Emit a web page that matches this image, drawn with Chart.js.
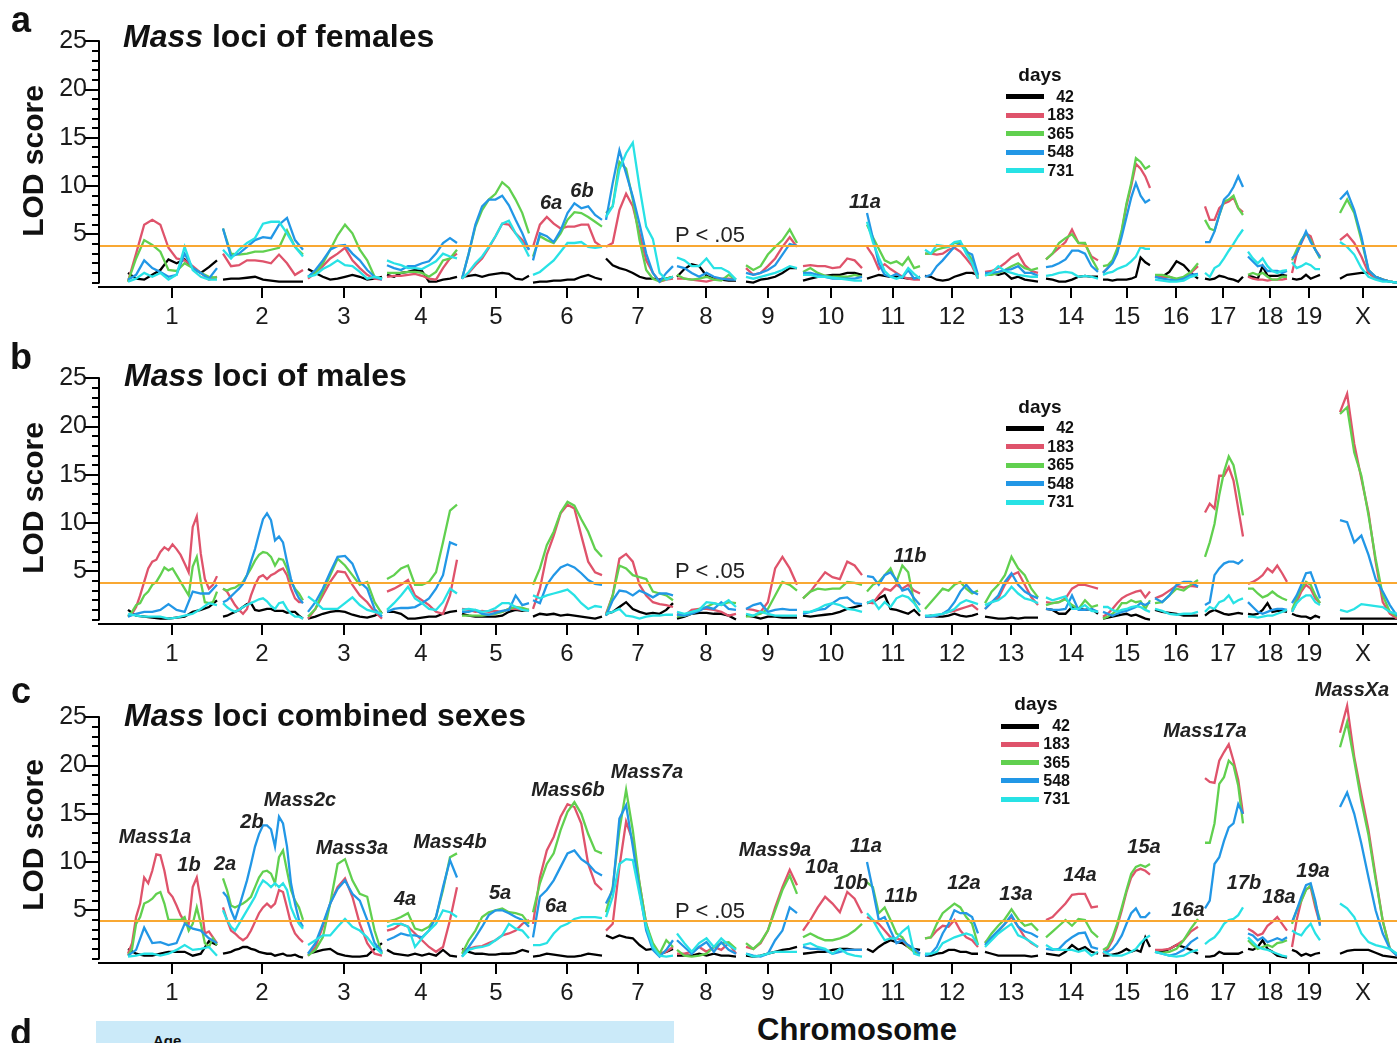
<!DOCTYPE html>
<html lang="en">
<head>
<meta charset="utf-8">
<title>Mass loci LOD scores</title>
<script src="https://cdn.jsdelivr.net/npm/chart.js@4.4.1/dist/chart.umd.min.js"></script>
<style>
  html, body { margin:0; padding:0; background:#fff; }
  body { position:relative; width:1397px; height:1043px; overflow:hidden;
         font-family:"Liberation Sans", Arial, Helvetica, sans-serif; color:#111; }
  .panel { position:absolute; left:0; width:1397px; height:335px; }
  .panel canvas { display:block; }
  .txt { position:absolute; white-space:nowrap; line-height:1; }
  .letter { font-weight:bold; font-size:36px; color:#111; }
  .title { font-weight:bold; font-size:32px; color:#111; }
  .ylab { font-weight:bold; font-size:30px; color:#111; }
  .locus { font-weight:bold; font-style:italic; font-size:20px; color:#222; }
  .pval { font-size:22px; color:#222; }
  .legtitle { font-weight:bold; font-size:19px; color:#111; }
  .legnum { font-weight:bold; font-size:16px; color:#111; }
  .swatch { position:absolute; height:5px; }
  .ageband { position:absolute; left:96px; top:1021px; width:578px; height:30px; background:#cbeaf9; }
  .age { font-weight:bold; font-size:15px; color:#111; }
  .xtitle { font-weight:bold; font-size:31px; color:#111; }
</style>
</head>
<body>
<div class="panel" style="top:0px"><canvas id="chartFemales" width="1397" height="335"></canvas></div>
<div class="panel" style="top:337px"><canvas id="chartMales" width="1397" height="335"></canvas></div>
<div class="panel" style="top:676px"><canvas id="chartCombined" width="1397" height="335"></canvas></div>
<div class="ageband"></div>

<script>
// ---------- genome map (map units along the concatenated genome) ----------
const chromNames = ['1','2','3','4','5','6','7','8','9','10','11','12','13','14','15','16','17','18','19','X'];
const chromStart = [29,124,209,288,363,434,507,578,647,704,768,826,886,947,1004,1056,1106,1149,1193,1241];
const chromEnd   = [118,204,283,358,430,503,574,637,698,763,821,879,939,999,1051,1099,1144,1188,1221,1298];
const chromTicks = [73,163,245,322,397,468,539,607,669,732,794,853,912,972,1028,1077,1124,1171,1210,1264];
const mapLength = 1298;

const ageDays = ['42','183','365','548','731'];
const ageColors = ['#000000','#DF536B','#61D04F','#2297E6','#28E2E5'];
const lodTicks = [5,10,15,20,25];
const thresholds = [3.8, 3.8, 3.9];   // P < .05 genome-wide LOD thresholds

// ---------- LOD profiles: one array per chromosome, markers evenly spaced ----------
// females
const femalesD42 = [
 [1.0,0.4,0.3,0.8,1.3,2.4,2.0,2.4,1.5,1.0,1.6,2.3],
 [0.3,0.4,0.4,0.5,0.6,0.3,0.2,0.1,0.1,0.1,0.1],
 [1.4,1.0,0.6,0.3,0.4,0.6,0.8,0.6,0.3,0.4,0.6],
 [0.8,0.6,1.0,1.1,1.3,1.2,0.1,0.1,0.3,0.4,0.6],
 [0.6,0.7,0.8,0.6,0.8,0.9,1.0,0.9,0.4,0.3,0.7],
 [0.0,0.1,0.1,0.2,0.2,0.3,0.3,0.6,0.8,0.5,0.3],
 [2.5,1.8,1.5,1.3,1.0,0.6,0.4,0.4,0.3,0.4,0.6],
 [0.6,1.4,1.9,1.7,0.7,0.4,0.3,0.2,0.2],
 [0.1,0.0,0.3,0.4,0.6,1.0,1.5,1.5],
 [0.2,0.4,0.6,0.7,0.8,0.8,1.0,1.0,0.8],
 [0.4,0.6,0.8,0.7,0.6,0.6,0.5,0.4,0.4,0.6],
 [0.7,0.6,0.3,0.2,0.3,0.6,0.8,1.0,1.0,0.8],
 [1.0,1.0,0.8,1.0,0.4,0.6,0.3,0.2,0.1],
 [0.4,0.3,0.1,0.1,0.3,0.6,0.7,0.6,0.6],
 [0.3,0.3,0.2,0.3,0.3,0.3,0.4,0.6,2.6,2.1,1.8],
 [0.6,0.6,1.1,2.2,1.8,1.0,0.4],
 [0.4,0.3,0.4,0.7,0.6,0.4,0.3,0.1,0.6],
 [0.7,0.6,0.4,1.7,0.7,0.7,0.7,0.8,0.7],
 [0.4,0.3,0.4,0.8,0.4,0.6,0.8],
 [0.4,0.8,0.9,1.0,1.0,0.6,0.3,0.1,0.0]
];
const femalesD183 = [
 [0.1,3.0,6.0,6.5,6.0,3.6,2.5,2.3,1.7,1.0,0.3,0.6],
 [3.0,1.7,1.8,2.3,2.3,2.2,2.0,2.9,2.0,0.8,1.3],
 [0.4,1.0,1.7,2.5,3.0,3.6,2.3,1.5,0.8,0.4,0.3],
 [0.6,0.7,0.7,0.8,0.9,0.7,0.4,0.3,1.5,2.5,3.0],
 [0.4,1.0,1.8,2.5,3.6,4.8,6.1,6.0,5.1,4.4,3.4],
 [3.7,6.0,6.8,6.1,5.6,5.8,5.8,6.0,6.0,4.2,3.7],
 [3.7,4.1,7.5,9.2,7.9,5.1,2.3,1.0,0.1,0.3,0.4],
 [0.4,0.4,0.3,0.2,0.1,0.3,0.4,0.4,0.3],
 [1.5,0.8,1.0,1.7,2.5,3.7,4.7,3.7],
 [1.7,1.8,1.7,1.7,1.5,1.6,2.5,2.3,1.5],
 [3.7,2.8,1.4,1.9,1.4,1.0,0.6,0.4,0.3,0.3],
 [3.0,3.0,2.9,3.0,3.4,3.6,3.2,2.5,1.7,0.4],
 [1.1,1.2,1.5,2.0,2.6,3.0,1.8,1.2,1.0],
 [2.4,3.0,3.6,4.2,5.5,4.1,4.0,2.7,2.3],
 [1.0,1.5,2.2,3.2,5.3,8.0,10.0,12.3,11.8,11.0,9.8],
 [0.7,0.6,0.6,0.3,0.4,1.0,1.7],
 [7.9,6.5,6.5,7.7,8.2,8.4,8.8,7.7,7.3],
 [0.6,0.4,0.3,0.3,0.2,0.3,0.3,0.3,0.4],
 [1.0,3.0,4.1,5.1,4.8,3.4,2.7],
 [4.4,5.0,4.1,2.7,1.0,0.4,0.3,0.1,0.0]
];
const femalesD365 = [
 [0.1,2.5,4.4,3.9,3.2,1.3,1.2,2.0,1.5,1.0,0.6,0.5],
 [5.6,3.0,2.9,3.0,3.2,3.2,3.4,3.6,5.4,3.7,2.9],
 [0.6,1.0,2.0,3.4,4.9,6.0,5.1,3.4,2.3,0.6,0.4],
 [1.0,1.0,1.0,1.1,1.1,1.0,0.6,1.1,2.3,2.5,3.4],
 [0.4,3.0,5.8,7.5,8.6,9.2,10.4,9.8,8.6,7.2,5.1],
 [2.7,4.8,4.4,4.1,5.1,6.5,7.3,7.2,6.8,6.3,5.8],
 [7.2,7.9,12.5,11.8,8.6,4.4,1.3,0.4,0.1,0.4,0.6],
 [0.8,0.4,0.3,0.4,0.6,0.3,0.2,0.8,0.3],
 [1.8,1.3,1.7,2.9,3.7,4.4,5.5,4.1],
 [1.1,1.5,1.0,0.7,0.6,0.6,0.6,0.8,0.6],
 [6.0,4.7,3.5,2.3,2.0,2.2,1.8,2.6,1.5,1.7],
 [3.0,3.0,3.4,3.6,3.7,4.1,4.1,3.4,2.3,0.6],
 [0.8,0.8,1.0,1.3,1.7,2.0,1.5,1.3,1.5],
 [2.4,3.0,4.1,4.6,5.0,4.1,4.1,2.5,1.3],
 [1.7,1.8,2.3,3.5,5.5,8.2,10.3,12.9,12.5,11.8,12.1],
 [0.8,0.8,0.6,0.4,0.6,1.1,2.0],
 [6.5,5.6,5.4,7.0,8.4,8.6,9.0,7.7,7.0],
 [0.8,1.0,0.8,1.0,0.6,0.3,0.3,0.6,0.6],
 [2.3,3.4,4.4,5.1,4.4,3.4,2.5],
 [7.2,8.6,7.2,4.4,1.3,0.6,0.3,0.1,0.0]
];
const femalesD548 = [
 [0.3,0.8,2.3,1.5,1.1,0.6,0.8,3.0,1.5,1.0,0.4,1.5],
 [5.6,2.7,3.0,3.7,4.4,4.7,4.6,6.0,6.7,4.4,3.4],
 [0.6,1.3,2.3,3.4,3.8,3.9,3.0,2.3,1.3,0.6,0.3],
 [1.8,1.5,1.3,1.7,1.7,2.0,2.2,3.0,4.1,4.6,4.1],
 [0.4,3.0,6.0,7.9,8.6,8.6,9.0,8.0,6.5,5.1,3.4],
 [2.3,5.1,4.8,4.2,5.4,7.2,8.2,7.7,7.9,7.0,6.5],
 [6.5,10.3,13.7,11.3,8.9,6.1,3.0,1.0,0.1,1.0,1.7],
 [1.7,1.5,1.0,0.6,1.0,0.6,0.4,0.3,0.3],
 [1.0,0.8,1.0,1.3,1.8,2.9,4.0,3.8],
 [1.0,1.0,0.8,0.6,0.4,0.4,0.4,0.4,0.6],
 [7.2,4.6,2.0,0.8,0.6,0.9,0.5,1.3,0.4,0.6],
 [0.6,0.8,1.7,2.3,3.0,3.7,4.0,3.2,2.9,0.8],
 [1.0,1.0,1.1,1.3,1.4,1.7,1.0,1.0,0.7],
 [1.6,1.7,2.0,2.4,3.3,3.3,3.0,1.7,1.1],
 [1.0,1.5,2.0,3.0,4.8,6.8,8.8,10.3,9.0,8.3,8.6],
 [0.6,0.4,0.3,0.2,0.4,0.8,0.9],
 [4.2,4.2,5.3,7.0,8.6,9.1,9.9,11.0,9.9],
 [2.7,2.2,1.7,1.8,1.2,1.2,1.2,1.0,1.2],
 [2.5,3.0,4.2,5.3,4.2,3.4,2.6],
 [8.6,9.4,7.5,4.8,1.3,0.6,0.3,0.1,0.0]
];
const femalesD731 = [
 [0.1,0.4,1.0,0.6,1.0,0.3,0.8,3.7,1.3,0.6,0.3,0.3],
 [3.4,2.5,3.4,4.1,4.6,6.1,6.3,6.3,5.1,3.7,2.7],
 [0.6,0.8,1.4,1.8,2.3,1.8,1.7,1.1,0.4,0.6,0.4],
 [2.3,2.0,1.8,1.5,1.5,1.4,1.8,2.2,3.0,2.7,2.5],
 [0.4,1.1,2.0,2.7,3.7,4.8,6.1,6.4,5.1,4.1,2.7],
 [0.8,1.1,1.7,2.3,3.2,4.1,4.1,4.2,3.7,3.6,3.7],
 [6.8,7.9,11.7,13.4,14.5,9.9,5.8,4.5,1.0,0.3,0.6],
 [2.6,2.3,1.7,1.7,2.5,1.5,1.5,1.1,0.3],
 [0.6,0.4,0.6,0.8,1.0,1.3,1.7,1.5],
 [0.8,0.8,0.6,0.6,0.5,0.4,0.3,0.2,0.2],
 [6.3,4.2,2.6,1.2,0.6,0.4,0.6,1.5,0.9,0.4],
 [3.4,3.0,3.9,3.8,3.7,4.2,4.3,3.0,2.0,0.4],
 [0.7,1.0,1.7,1.2,1.0,0.8,0.7,0.6,0.6],
 [0.7,0.8,1.0,1.1,1.0,0.6,0.7,0.6,0.4],
 [0.8,1.0,1.1,1.4,1.6,1.8,2.2,2.7,3.7,3.5,3.5],
 [0.3,0.2,0.1,0.1,0.2,0.6,0.8],
 [1.0,0.6,1.5,1.8,2.5,3.3,4.0,4.8,5.5],
 [3.2,2.5,2.0,2.5,1.7,1.2,1.0,1.2,1.3],
 [2.1,1.5,1.7,2.0,1.8,1.4,1.4],
 [4.2,3.7,2.9,1.5,0.6,0.3,0.1,0.1,0.0]
];

// males
const malesD42 = [
 [1.0,0.4,0.3,0.2,0.1,0.1,0.2,0.3,0.8,1.0,1.3,2.0],
 [0.3,0.4,0.6,0.8,1.0,1.3,1.6,1.7,1.0,0.9,1.0,1.1,1.1,0.9,0.9,0.9,0.7,0.8,0.8,0.4,0.1],
 [0.1,0.3,0.6,0.8,0.9,0.8,0.5,0.3,0.2,0.4,0.8],
 [0.8,0.8,0.6,0.1,0.1,0.2,0.3,0.3,0.6,0.8,0.9],
 [0.6,0.4,0.3,0.3,0.3,0.3,0.4,0.8,1.0,0.9,1.0],
 [0.3,0.6,0.5,0.6,0.4,0.5,0.4,0.3,0.2,0.1,0.3],
 [0.6,0.8,1.3,1.8,1.1,0.8,0.6,0.7,0.6,1.0,1.7],
 [0.1,0.3,0.6,0.7,0.7,0.6,0.6,0.4,0.0],
 [0.4,0.3,0.1,0.3,0.3,0.2,0.2,0.2],
 [0.4,0.3,0.4,0.5,0.6,0.8,1.1,1.3,1.5],
 [1.7,1.8,2.2,2.5,1.1,1.0,0.8,0.6,1.0,0.4],
 [0.3,0.4,0.3,0.3,0.4,0.6,0.4,0.3,0.4,0.6],
 [0.3,0.2,0.1,0.1,0.2,0.1,0.2,0.2,0.2],
 [1.1,1.0,0.6,0.6,1.3,1.1,1.0,1.1,0.6],
 [0.1,0.2,0.3,0.4,0.5,0.6,0.4,0.5,0.3,0.1,0.0],
 [1.0,0.8,0.7,0.6,0.4,0.4,0.4],
 [0.4,0.8,1.0,0.8,0.6,0.5,0.6,0.7,0.6],
 [0.6,0.5,0.6,1.0,1.7,0.8,0.9,0.9,0.8],
 [0.6,0.4,0.3,0.3,0.1,0.4,0.2],
 [0.1,0.1,0.1,0.1,0.1,0.1,0.1,0.1,0.1]
];
const malesD183 = [
 [0.4,0.6,1.3,2.5,3.9,5.3,6.0,6.2,7.0,7.5,7.2,7.8,7.3,6.7,5.8,4.9,9.6,10.7,6.8,4.2,3.2,3.6,4.5],
 [3.2,2.9,2.2,1.5,1.0,0.6,1.1,2.5,3.6,4.4,4.6,4.2,4.6,4.8,5.1,5.3,4.6,3.2,2.2,1.8,1.8],
 [0.1,1.1,2.5,3.9,5.0,4.9,3.6,2.5,1.8,0.8,0.1],
 [2.9,3.2,3.6,4.1,2.5,2.0,1.5,0.8,0.6,2.5,6.2],
 [1.1,1.0,0.8,0.9,0.8,0.9,0.8,1.1,1.1,1.0,0.9],
 [1.1,3.2,6.7,8.7,11.0,11.9,11.5,8.7,6.0,4.9,4.6],
 [0.6,2.5,6.3,6.8,6.0,3.6,2.5,1.8,1.6,1.5,1.3],
 [0.6,0.4,1.0,1.1,1.1,1.0,0.8,0.4,0.6],
 [1.1,1.0,0.8,1.8,5.3,6.5,5.3,3.6],
 [2.2,2.9,3.9,4.9,4.4,4.2,6.0,5.6,4.6],
 [1.8,1.7,2.5,3.2,3.0,3.6,3.2,3.6,3.0,2.7],
 [0.3,0.3,0.4,0.6,0.8,0.9,1.1,1.3,1.5,1.0],
 [1.1,1.8,2.2,3.6,4.6,4.9,3.6,2.3,1.5],
 [1.8,1.7,1.8,2.2,3.2,3.6,3.6,3.4,3.2],
 [0.3,0.6,1.1,1.7,2.2,2.5,2.7,2.9,3.0,2.3,2.9],
 [2.2,2.5,3.0,3.5,3.3,3.5,3.4],
 [11.1,12.0,11.5,14.9,14.9,15.8,14.4,11.5,8.6],
 [3.7,3.9,4.2,4.6,5.3,4.9,5.6,4.8,3.9],
 [0.8,1.8,2.9,3.6,3.2,2.2,1.7],
 [21.5,23.4,18.2,14.6,11.1,6.0,1.8,0.6,0.1]
];
const malesD365 = [
 [0.3,0.8,1.5,1.7,2.5,2.9,3.6,3.9,4.6,5.4,5.1,5.3,4.6,3.9,3.2,2.5,5.5,6.5,3.9,1.8,1.7,1.8,2.9],
 [3.2,3.0,3.2,3.3,3.6,3.9,4.6,5.3,6.1,6.7,7.0,6.9,6.5,5.6,6.3,6.2,5.3,3.9,3.2,2.7,2.0],
 [0.3,1.1,2.9,4.6,6.3,5.6,4.6,3.6,3.9,1.8,0.6],
 [4.2,4.6,5.3,5.6,3.6,3.6,3.9,4.9,8.0,11.3,11.9],
 [0.4,0.4,0.4,0.4,0.5,0.6,0.8,1.1,1.3,1.2,1.0],
 [3.6,5.3,7.7,9.1,11.1,12.2,11.8,10.4,9.1,7.3,6.5],
 [0.4,2.5,5.6,5.3,4.6,4.4,4.2,2.9,2.7,2.5,2.0],
 [0.3,0.4,0.6,1.1,1.3,1.7,1.5,1.8,1.7],
 [0.3,0.4,0.6,1.1,2.5,3.9,3.6,3.0],
 [2.2,2.9,3.2,3.1,3.2,3.2,3.9,3.8,3.6],
 [2.9,3.6,3.9,4.6,5.3,3.9,5.6,4.9,1.8,0.8],
 [1.1,1.8,2.5,3.2,3.0,3.6,3.9,3.2,2.7,3.0],
 [1.7,2.9,3.6,4.6,6.5,5.3,4.6,3.2,2.3],
 [1.5,1.7,1.8,2.1,1.5,1.1,2.0,1.3,1.5],
 [0.1,0.3,0.6,1.0,1.7,1.7,2.0,1.8,1.9,1.1,2.0],
 [1.7,1.8,2.5,3.2,3.0,3.6,4.1],
 [6.5,8.0,9.9,12.9,15.3,16.9,16.0,13.6,10.8],
 [3.2,3.2,2.7,2.3,2.5,2.9,2.5,2.2,2.0],
 [1.0,2.2,3.2,3.9,3.6,2.5,1.7],
 [21.3,22.0,17.3,14.9,10.8,6.3,2.5,0.8,0.3]
];
const malesD548 = [
 [0.3,0.6,0.8,0.8,1.0,1.6,1.0,0.8,2.9,2.7,2.7,3.6],
 [1.8,2.0,2.4,2.8,3.2,3.7,4.6,6.0,7.3,8.9,10.4,11.0,10.3,8.2,8.6,8.0,6.0,4.2,3.0,2.2,1.7],
 [0.8,1.8,3.2,4.9,6.5,6.6,5.8,3.9,3.2,1.1,0.3],
 [0.8,1.1,1.2,1.2,1.3,1.7,2.2,3.2,4.6,8.0,7.7],
 [0.8,0.8,1.0,0.6,0.5,0.7,0.9,1.0,2.5,1.5,1.7],
 [2.0,1.7,3.6,4.6,5.4,5.7,5.4,4.8,4.1,3.7,3.6],
 [0.4,2.0,3.0,2.9,2.5,3.0,2.7,2.3,2.7,2.7,2.5],
 [0.5,0.4,0.6,0.9,1.3,1.1,1.8,1.1,1.0],
 [1.1,1.5,1.7,0.8,1.0,1.1,1.0,1.0],
 [0.6,0.8,1.0,1.1,1.7,2.2,2.3,1.7,1.6],
 [4.5,4.4,3.6,4.6,4.9,4.1,3.0,3.2,2.2,1.5],
 [0.3,0.3,0.4,0.6,1.0,1.8,2.9,3.6,2.9,2.6],
 [1.1,1.8,2.5,3.9,4.8,3.6,2.9,2.5,2.2],
 [1.1,1.0,1.0,1.1,2.5,1.0,1.0,1.1,0.8],
 [0.8,0.6,0.4,0.6,0.8,0.9,1.1,1.3,1.7,1.5,1.8],
 [2.2,1.8,2.5,3.6,3.9,3.9,3.4],
 [1.5,1.8,4.6,5.3,5.8,6.0,6.0,5.8,6.2],
 [1.8,1.3,0.8,0.6,0.8,1.0,1.1,1.1,1.0],
 [1.7,2.5,3.6,4.8,4.9,3.6,2.2],
 [10.3,10.1,8.0,8.7,6.7,4.2,2.9,1.5,0.4]
];
const malesD731 = [
 [0.6,0.4,0.3,0.3,0.3,0.1,0.2,0.4,0.6,1.1,1.7,1.5],
 [1.7,1.3,1.0,0.8,1.0,1.3,1.5,1.7,1.9,2.1,2.2,1.9,1.4,1.1,1.7,1.8,1.1,0.6,0.3,0.3,0.1],
 [2.4,1.8,1.1,1.1,1.1,1.7,2.3,1.5,1.0,0.8,0.6],
 [1.0,1.7,2.5,3.4,2.2,1.7,1.1,1.0,1.8,3.2,2.7],
 [1.0,1.1,1.0,0.8,0.9,1.2,1.7,1.7,1.3,1.0,0.9],
 [2.5,2.2,2.5,2.7,2.9,3.1,2.5,1.7,1.1,1.4,1.3],
 [0.6,0.8,1.1,0.4,0.3,0.1,0.3,0.4,0.4,0.5,0.5],
 [0.8,0.6,0.8,1.0,1.8,1.7,1.5,2.0,1.3],
 [0.6,0.4,0.8,0.6,0.4,0.4,0.4,0.4],
 [0.8,0.8,1.1,1.5,1.7,1.5,1.1,1.0,0.8],
 [1.7,2.0,1.1,1.8,1.3,2.2,2.5,2.3,1.7,0.8],
 [0.4,0.4,0.5,0.6,0.8,1.1,1.7,2.0,1.8,1.6],
 [1.5,1.8,2.0,2.5,3.4,2.7,2.2,2.0,1.7],
 [2.3,2.0,2.2,2.4,1.1,1.1,1.5,0.9,0.8],
 [1.3,1.3,1.0,0.8,1.0,1.1,1.3,1.4,1.3,1.0,0.8],
 [1.1,0.9,0.6,0.5,0.6,0.6,0.8],
 [0.8,1.3,1.1,1.8,2.0,2.5,1.7,2.0,2.2],
 [0.3,0.3,0.2,0.3,0.4,0.4,0.6,0.8,1.0],
 [0.8,1.7,2.2,2.5,2.5,1.8,1.5],
 [1.0,0.8,1.1,1.6,1.5,1.4,1.3,0.8,0.6]
];

// combined sexes
const combinedD42 = [
 [1.0,0.5,0.3,0.3,0.5,0.7,0.7,0.7,0.3,0.5,1.8,1.4],
 [0.5,0.6,0.7,0.9,1.0,1.2,1.2,1.0,0.9,0.7,0.6,0.5,0.5,0.3,0.4,0.5,0.3,0.3,0.4,0.2,0.1],
 [0.5,0.7,0.9,1.0,0.5,0.3,0.2,0.2,0.3,1.0,1.6],
 [0.9,0.5,0.4,0.3,0.5,0.3,0.5,0.3,0.9,0.3,0.2],
 [1.0,0.7,0.5,0.5,0.4,0.4,0.5,0.5,0.6,0.9,0.7],
 [0.2,0.3,0.5,0.4,0.3,0.2,0.2,0.3,0.5,0.4,0.3],
 [2.4,2.1,2.4,2.2,2.1,1.4,0.9,1.0,0.5,0.7,1.0],
 [0.3,0.3,0.3,0.5,0.3,0.5,0.3,0.3,0.2],
 [0.3,0.2,0.3,0.5,0.7,0.9,1.0,1.2],
 [0.5,0.6,0.7,0.7,0.9,1.0,1.0,0.9,0.9],
 [1.0,0.7,1.2,1.6,1.9,1.7,1.6,1.2,1.0,0.9],
 [0.3,0.3,0.5,0.6,0.9,0.9,0.7,0.7,0.5,0.5],
 [0.7,0.5,0.3,0.3,0.3,0.3,0.3,0.2,0.3],
 [0.5,0.4,0.3,0.7,1.4,0.9,1.2,0.7,0.5],
 [0.3,0.3,0.4,0.5,0.7,1.0,0.7,0.9,0.7,2.2,1.2],
 [0.7,0.7,1.0,1.4,1.2,0.9,0.5],
 [0.2,0.2,0.3,0.7,0.5,0.5,0.5,0.5,0.7],
 [1.0,0.9,1.2,1.9,1.0,0.7,0.3,0.2,0.1],
 [0.9,0.7,0.3,0.5,0.3,0.5,0.6],
 [0.5,0.8,0.9,0.9,0.9,0.6,0.3,0.2,0.1]
];
const combinedD183 = [
 [0.5,1.6,4.3,5.7,8.4,7.8,9.1,10.8,10.7,9.1,6.9,6.4,5.5,4.5,3.8,3.6,7.4,8.4,6.0,2.6,2.8,2.2,1.6],
 [5.3,4.0,2.9,2.6,2.2,1.9,2.2,2.9,3.8,4.7,5.3,5.7,5.3,5.7,7.1,6.9,5.3,3.6,2.6,2.1,1.7],
 [0.3,1.2,3.3,5.7,7.4,8.3,6.4,3.6,1.6,0.5,0.3],
 [2.9,3.1,3.6,3.3,2.6,1.9,1.2,0.7,1.2,4.0,7.4],
 [0.9,1.0,1.2,1.3,1.6,1.9,2.4,2.6,2.9,3.6,4.0],
 [3.6,8.4,11.2,12.6,14.7,16.0,15.7,14.0,9.8,7.8,7.1],
 [2.9,3.6,9.5,14.2,12.2,7.8,3.6,1.2,0.5,0.7,1.2],
 [0.5,0.5,0.7,1.2,0.7,1.2,0.9,1.6,0.5],
 [1.2,1.0,1.6,2.9,5.3,7.4,9.2,7.6],
 [2.9,4.0,5.3,6.4,5.7,4.8,6.9,6.2,4.7],
 [4.3,4.0,3.6,2.9,2.2,2.1,1.9,1.2,0.7,0.5],
 [2.1,2.2,2.9,3.4,3.3,4.0,2.9,2.2,1.9,1.2],
 [1.7,2.1,2.8,3.6,4.3,3.3,2.2,1.6,1.2],
 [4.0,4.3,5.0,5.7,6.6,6.7,6.7,5.3,5.4],
 [0.5,1.0,1.9,3.3,5.0,6.9,8.4,9.1,9.3,9.1,8.7],
 [0.9,0.9,1.0,1.4,1.9,2.8,3.3],
 [18.7,18.3,18.2,20.5,21.4,22.2,20.5,18.5,15.0],
 [3.1,2.8,2.4,2.6,3.4,3.8,4.3,3.6,2.9],
 [1.2,4.0,6.0,7.2,7.4,5.3,3.6],
 [23.4,26.2,20.9,17.0,13.3,8.5,3.9,1.0,0.3]
];
const combinedD365 = [
 [0.3,1.0,3.6,4.3,5.7,5.9,6.2,6.7,6.9,5.7,4.0,4.0,4.0,4.0,4.3,2.9,3.6,5.3,3.6,1.6,1.2,2.1,1.4],
 [8.3,7.1,5.5,5.3,5.5,5.7,6.0,6.4,7.4,8.4,9.0,9.1,8.8,7.8,10.5,11.2,9.1,7.1,6.0,5.3,4.0],
 [0.3,0.9,2.2,5.7,9.8,10.3,8.1,6.7,6.4,2.9,0.5],
 [3.8,4.0,4.3,4.7,3.1,2.9,3.3,4.3,7.1,10.5,10.9],
 [0.5,1.9,2.9,4.3,4.8,5.0,5.2,4.8,4.7,4.5,3.6],
 [4.8,7.8,9.8,10.9,13.3,15.2,16.2,15.0,12.9,11.2,10.9],
 [4.8,7.4,13.3,17.5,13.3,7.8,3.6,1.6,0.5,1.9,1.2],
 [0.9,0.3,0.2,0.3,0.5,1.2,1.6,1.7,1.0],
 [1.6,1.0,1.7,2.9,5.0,7.1,8.6,6.7],
 [2.2,2.6,2.2,1.9,1.9,2.1,2.4,2.9,3.6],
 [7.9,7.4,4.7,5.3,4.0,2.6,2.2,1.2,0.7,0.5],
 [2.1,2.2,3.6,4.7,5.2,5.7,5.3,4.3,3.6,1.4],
 [1.6,2.6,3.4,4.1,5.1,4.1,3.4,3.6,2.9],
 [2.2,2.8,3.4,4.0,3.4,4.1,4.0,2.8,2.2],
 [0.9,1.2,2.2,3.6,5.3,7.1,8.8,9.5,9.7,9.5,9.8],
 [0.7,0.6,0.7,1.0,1.9,3.1,4.1],
 [12.0,12.0,14.0,18.1,18.8,20.5,20.0,17.9,14.0],
 [1.9,1.4,1.0,1.2,1.4,1.2,1.6,1.7,1.9],
 [3.6,5.0,6.0,7.1,7.6,5.7,4.0],
 [21.9,24.5,20.5,16.3,12.8,8.2,3.9,1.0,0.4]
];
const combinedD548 = [
 [0.3,0.9,3.2,1.6,1.7,1.4,1.6,3.6,3.1,2.9,2.1,1.6],
 [6.9,6.4,5.0,4.0,5.3,6.7,8.1,9.8,11.6,12.9,13.8,13.8,13.4,11.6,14.7,14.0,11.6,7.8,5.7,4.0,3.3],
 [0.5,1.6,3.6,5.7,7.2,8.1,6.7,6.0,4.0,1.6,0.7],
 [1.9,2.2,2.6,2.4,2.4,2.2,2.9,4.3,7.4,10.2,8.4],
 [0.2,1.2,2.2,3.3,4.5,5.0,5.0,4.7,4.3,4.0,3.3],
 [2.2,6.4,7.1,8.1,9.5,10.9,11.2,10.3,9.8,9.0,8.6],
 [5.7,7.1,14.5,15.9,11.6,7.1,2.9,0.9,0.2,0.9,1.9],
 [1.9,1.2,0.5,1.2,1.7,0.7,1.7,0.9,0.5],
 [0.5,0.3,0.2,0.5,1.9,2.9,5.3,4.7],
 [1.2,1.0,1.0,0.9,0.5,0.7,0.9,0.9,0.9],
 [10.0,7.1,4.0,4.3,2.9,1.6,1.9,1.4,1.0,0.5],
 [0.3,0.5,1.2,2.6,3.6,5.0,4.7,4.7,4.3,2.6],
 [1.4,2.2,2.9,3.6,4.5,3.3,2.8,2.6,2.2],
 [1.0,0.9,1.0,1.7,2.2,2.6,2.7,1.2,1.0],
 [0.7,0.7,1.0,1.6,2.4,3.6,4.7,5.2,4.3,4.3,4.8],
 [0.7,0.5,0.3,0.5,0.9,1.7,2.2],
 [5.2,6.0,9.8,10.5,12.2,13.6,14.0,16.0,15.0],
 [2.6,2.4,1.9,2.2,1.7,1.9,2.1,1.9,2.2],
 [3.8,5.0,6.4,7.6,7.8,6.0,3.4],
 [15.7,17.2,15.0,11.9,8.4,5.0,2.6,1.0,0.3]
];
const combinedD731 = [
 [0.2,0.3,0.5,0.5,0.3,0.5,0.9,1.4,0.9,1.0,1.2,0.3],
 [5.0,4.0,3.3,2.9,3.6,4.3,5.0,5.7,6.4,7.4,8.1,7.8,7.4,7.8,7.4,7.8,7.1,5.3,4.3,3.6,3.1],
 [1.4,1.9,2.4,2.4,3.3,4.1,3.3,2.9,2.2,1.2,0.5],
 [3.3,3.6,3.6,3.3,1.2,2.1,2.9,3.6,5.0,4.8,4.3],
 [0.2,0.9,1.1,1.2,1.4,1.9,2.4,3.6,3.1,2.9,2.1],
 [1.4,1.4,1.6,2.6,3.3,3.6,4.1,4.3,4.3,4.3,4.2],
 [4.3,6.4,9.8,10.3,10.2,6.7,3.3,1.2,0.3,0.2,0.3],
 [2.6,1.6,0.7,1.6,2.1,1.2,2.1,1.4,0.9],
 [0.5,0.2,0.3,0.5,0.7,0.7,0.7,0.7],
 [1.4,1.6,1.2,1.0,0.5,1.0,0.5,0.3,0.2],
 [4.7,4.0,2.9,1.9,2.1,2.1,2.8,3.3,0.5,0.3],
 [0.5,0.5,0.7,1.6,1.9,2.2,2.4,2.6,2.4,1.4],
 [1.2,1.9,2.6,3.1,3.6,2.4,2.1,1.7,1.2],
 [1.4,1.0,0.9,0.9,0.9,0.7,0.9,0.3,0.7],
 [0.7,0.5,0.3,0.3,0.3,0.5,0.7,1.0,1.6,2.1,2.4],
 [0.7,0.5,0.3,0.2,0.3,0.7,0.9],
 [1.5,1.9,2.2,2.8,3.6,4.0,4.1,4.5,5.3],
 [2.2,1.7,1.2,1.0,0.9,0.7,0.5,0.3,0.2],
 [2.9,2.6,2.4,3.1,3.6,2.6,1.9],
 [5.7,5.2,4.3,2.6,1.7,1.4,1.2,1.0,0.5]
];

// ---------- drawing ----------
const FONT = '"Liberation Sans", Arial, Helvetica, sans-serif';
Chart.defaults.font.family = FONT;

// Lay each chromosome's markers evenly over its map interval; a null breaks the line between chromosomes.
function profile(perChrom) {
  const pts = [];
  perChrom.forEach((vals, c) => {
    const a = chromStart[c], b = chromEnd[c], n = vals.length;
    vals.forEach((v, i) => pts.push({ x: a + (b - a) * i / (n - 1), y: v }));
    pts.push({ x: b + 0.5, y: null });
  });
  return pts;
}

// LOD axis with minor ticks, plus the significance threshold line.
const lodAxisPlugin = {
  id: 'lodAxis',
  afterDatasetsDraw(chart, args, opts) {
    const { ctx, chartArea } = chart;
    const ys = chart.scales.y;
    ctx.save();
    ctx.strokeStyle = '#F9A832';
    ctx.lineWidth = 2;
    const ty = ys.getPixelForValue(opts.threshold);
    ctx.beginPath(); ctx.moveTo(chartArea.left, ty); ctx.lineTo(chartArea.right, ty); ctx.stroke();

    const x0 = chartArea.left;
    ctx.strokeStyle = '#000';
    ctx.lineWidth = 2;
    ctx.lineCap = 'square';
    ctx.beginPath(); ctx.moveTo(x0, ys.getPixelForValue(0)); ctx.lineTo(x0, ys.getPixelForValue(25)); ctx.stroke();
    ctx.lineCap = 'butt';
    for (let v = 0; v <= 25; v++) {
      const len = (v % 5 === 0 && v > 0) ? 14 : 7;
      const py = Math.round(ys.getPixelForValue(v));
      ctx.beginPath(); ctx.moveTo(x0 - len, py); ctx.lineTo(x0, py); ctx.stroke();
    }
    ctx.restore();
  }
};

function drawPanel(canvasId, series, threshold) {
  new Chart(document.getElementById(canvasId), {
    type: 'line',
    data: {
      datasets: series.map((s, k) => ({
        label: ageDays[k],
        data: profile(s),
        borderColor: ageColors[k],
        backgroundColor: ageColors[k],
        borderWidth: 2.3,
        pointRadius: 0,
        tension: 0,
        fill: false,
        spanGaps: false,
        order: series.length - 1 - k
      }))
    },
    options: {
      responsive: false,
      animation: false,
      events: [],
      layout: { padding: { top: 22, left: 0, right: 0, bottom: 0 } },
      plugins: { legend: { display: false }, tooltip: { enabled: false }, lodAxis: { threshold } },
      scales: {
        x: {
          type: 'linear', min: 0, max: mapLength,
          afterFit: s => { s.height = 48; s.paddingLeft = 0; s.paddingRight = 0; },
          afterBuildTicks: s => { s.ticks = chromTicks.map(v => ({ value: v })); },
          ticks: {
            autoSkip: false, maxRotation: 0, minRotation: 0, padding: 5,
            color: '#1a1a1a', font: { size: 24 },
            callback: (value, index) => chromNames[index]
          },
          grid: { display: true, drawOnChartArea: false, drawTicks: true, tickLength: 11, color: '#000', lineWidth: 2 },
          border: { display: true, color: '#000', width: 2 }
        },
        y: {
          type: 'linear', min: -0.46, max: 27,
          afterFit: s => { s.width = 99; s.paddingTop = 0; s.paddingBottom = 0; },
          afterBuildTicks: s => { s.ticks = lodTicks.map(v => ({ value: v })); },
          ticks: { padding: 12, color: '#1a1a1a', font: { size: 25 } },
          grid: { display: false, drawTicks: false },
          border: { display: false }
        }
      }
    },
    plugins: [lodAxisPlugin]
  });
}

drawPanel('chartFemales', [femalesD42, femalesD183, femalesD365, femalesD548, femalesD731], thresholds[0]);
drawPanel('chartMales', [malesD42, malesD183, malesD365, malesD548, malesD731], thresholds[1]);
drawPanel('chartCombined', [combinedD42, combinedD183, combinedD365, combinedD548, combinedD731], thresholds[2]);

// ---------- text ----------
function put(html, x, y, cls, anchor, extra) {
  const d = document.createElement('div');
  d.className = 'txt ' + cls;
  d.innerHTML = html;
  d.style.left = x + 'px';
  d.style.top = y + 'px';
  const tx = anchor === 'left' ? '0' : anchor === 'right' ? '-100%' : '-50%';
  d.style.transform = 'translate(' + tx + ', -50%)' + (extra || '');
  document.body.appendChild(d);
}

function legend(x0, x1, titleX, titleY, firstY, step, numRight) {
  put('days', titleX, titleY, 'legtitle', 'center');
  ageDays.forEach((d, k) => {
    const y = firstY + k * step;
    const sw = document.createElement('div');
    sw.className = 'swatch';
    sw.style.left = x0 + 'px';
    sw.style.width = (x1 - x0) + 'px';
    sw.style.top = (y - 2.5) + 'px';
    sw.style.background = ageColors[k];
    document.body.appendChild(sw);
    put(d, numRight, y, 'legnum', 'right');
  });
}

// panel letters
put('a', 21, 20, 'letter', 'center');
put('b', 21, 357, 'letter', 'center');
put('c', 21, 691, 'letter', 'center');
put('d', 21, 1033, 'letter', 'center');

// panel titles
put('<i>Mass</i> loci of females', 123, 36, 'title', 'left');
put('<i>Mass</i> loci of males', 124, 375, 'title', 'left');
put('<i>Mass</i> loci combined sexes', 124, 715, 'title', 'left');

// y-axis titles
[161, 498, 835].forEach(y => put('LOD score', 33, y, 'ylab', 'center', ' rotate(-90deg)'));

// significance labels
put('P &lt; .05', 675, 235, 'pval', 'left');
put('P &lt; .05', 675, 571, 'pval', 'left');
put('P &lt; .05', 675, 911, 'pval', 'left');

// legends
legend(1006, 1044, 1040, 74, 96.5, 18.5, 1074);
legend(1006, 1044, 1040, 406, 428.3, 18.5, 1074);
legend(1001, 1039, 1036, 703, 726, 18.3, 1070);

// locus names
const femaleLoci = [['6a',551,202],['6b',582,190],['11a',865,201]];
const maleLoci = [['11b',910,555]];
const combinedLoci = [
  ['Mass1a',155,836],['1b',189,864],['2a',225,863],['2b',252,821],['Mass2c',300,799],
  ['Mass3a',352,847],['4a',405,898],['Mass4b',450,841],['5a',500,892],['Mass6b',568,789],
  ['6a',556,905],['Mass7a',647,771],['Mass9a',775,849],['10a',822,866],['10b',851,882],
  ['11a',866,845],['11b',901,895],['12a',964,882],['13a',1016,893],['14a',1080,874],
  ['15a',1144,846],['16a',1188,909],['Mass17a',1205,730],['17b',1244,882],['18a',1279,896],
  ['19a',1313,870],['MassXa',1352,689]
];
[femaleLoci, maleLoci, combinedLoci].forEach(list => list.forEach(([t, x, y]) => put(t, x, y, 'locus', 'center')));

// bottom strip
put('Age', 153, 1040, 'age', 'left');
put('Chromosome', 857, 1029, 'xtitle', 'center');
</script>
</body>
</html>
